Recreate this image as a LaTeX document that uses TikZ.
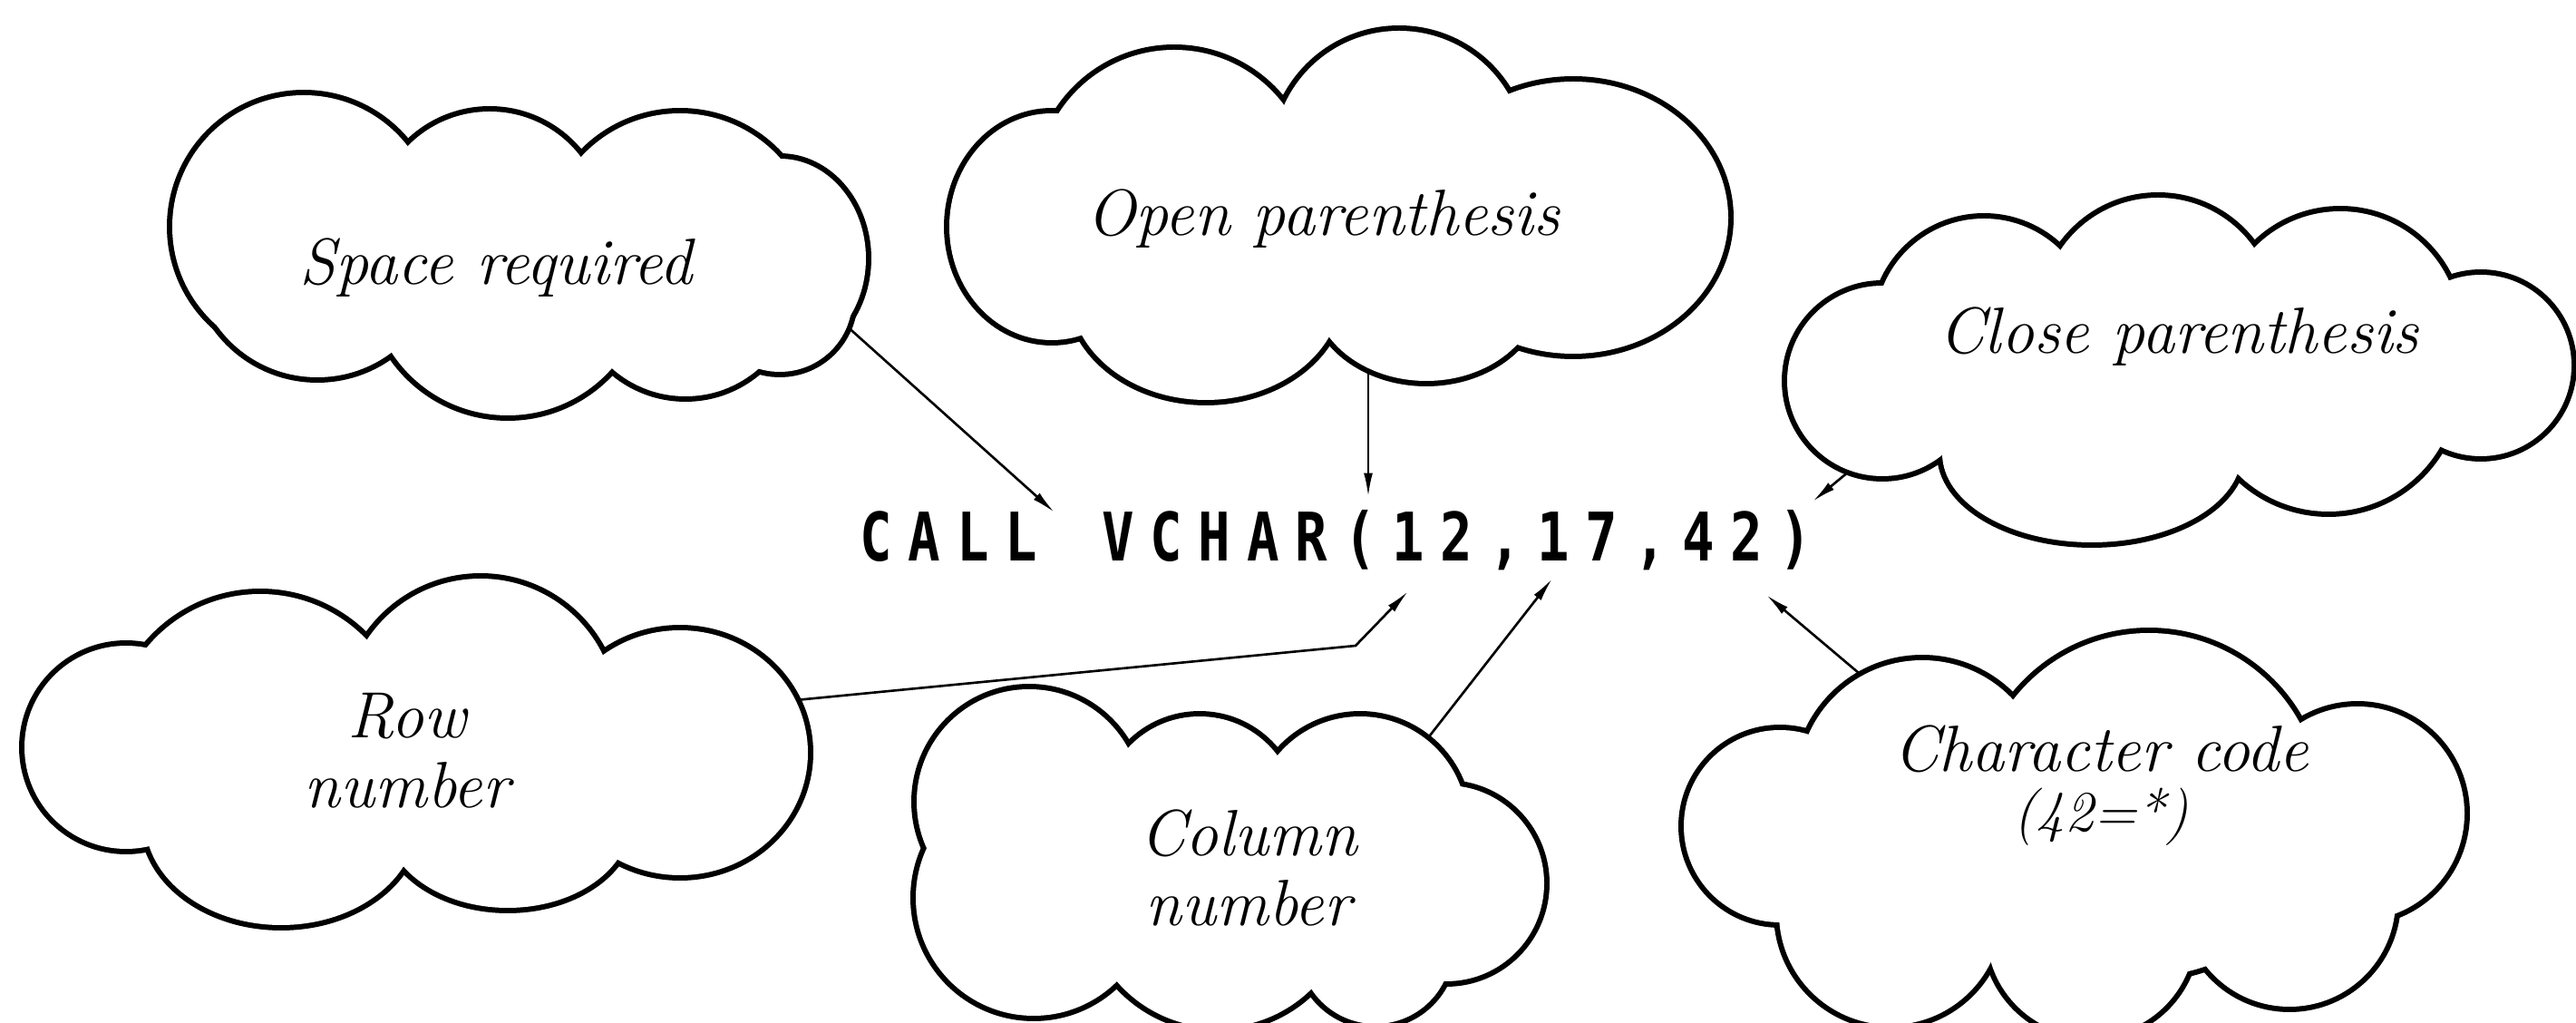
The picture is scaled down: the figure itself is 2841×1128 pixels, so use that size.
\documentclass[tikz,border=0pt]{standalone}
\usepackage{fontspec}
\newfontfamily\codefont[FakeStretch=0.8]{DejaVu Sans Mono}
\usetikzlibrary{shapes.geometric,arrows.meta}
% one fixed-pitch cell of the statement line
\newcommand\ch[1]{\makebox[15.17pt]{#1}}
% a cloud as the union of its lobes: stroke every lobe, then paint them all white
\newcommand\cloudoutline[1]{%
  \foreach \cx/\cy/\rx/\ry in {#1}
    {\draw[line width=3.4pt] (\cx,\cy) ellipse [x radius=\rx, y radius=\ry];}
  \foreach \cx/\cy/\rx/\ry in {#1}
    {\fill[white] (\cx,\cy) ellipse [x radius=\rx, y radius=\ry];}}
\begin{document}
\begin{tikzpicture}[x=0.01cm,y=-0.01cm,
  cloudarea/.style={ellipse, inner sep=0pt},
  labeltext/.style={align=center, inner sep=0pt,
    font=\itshape\fontsize{20.5}{22}\selectfont},
  conn/.style={line width=0.75pt, -{Latex[length=7.5pt,width=2.8pt]}},
  code/.style={font=\codefont\bfseries\fontsize{21}{24}\selectfont,
    inner sep=0pt, anchor=base west}]
\useasboundingbox (0,0) rectangle (2841,1128);
\clip (0,0) rectangle (2841,1128);

% areas of the six clouds
\node[cloudarea, minimum width=7.0cm, minimum height=3.2cm] (space) at (572,280) {};
\node[cloudarea, minimum width=7.9cm, minimum height=3.4cm] (open) at (1476,237) {};
\node[cloudarea, minimum width=7.9cm, minimum height=3.4cm] (close) at (2403,407) {};
\node[cloudarea, minimum width=7.9cm, minimum height=3.4cm] (row) at (459,829) {};
\node[cloudarea, minimum width=6.3cm, minimum height=3.5cm] (column) at (1357,955) {};
\node[cloudarea, minimum width=7.9cm, minimum height=4.0cm] (char) at (2288,923) {};

% the statement
\node[code] (call) at (939,619)
  {\ch{C}\ch{A}\ch{L}\ch{L}\ch{ }\ch{V}\ch{C}\ch{H}\ch{A}\ch{R}\ch{(}\ch{1}\ch{2}\ch{,}\ch{1}\ch{7}\ch{,}\ch{4}\ch{2}\ch{)}};

% arrow tips at the statement
\coordinate (tipA) at (1163,565);
\coordinate (tipB) at (1509,548);
\coordinate (tipC) at (1999,553);
\coordinate (bendD) at (1495,712);
\coordinate (tipD) at (1553,652);
\coordinate (tipE) at (1712,638);
\coordinate (tipF) at (1948,656);

% connectors (their inner ends disappear under the clouds)
\draw[conn] (space.-9.4) -- (tipA);
\draw[conn] (tipB |- open.-79) -- (tipB);
\draw[conn] (close.-165) -- (tipC);
\draw[conn] (row.8.7) -- (bendD) -- (tipD);
\draw[conn] (column.32.7) -- (tipE);
\draw[conn] (char.143.6) -- (tipF);

% cloud outlines
\cloudoutline{335/250/145/145, 540/249/126/126, 750/273/148/148, 860/285/95/110,
  860/330/80/80, 756/315/122/122, 560/305/153/153, 350/280/136/136, 572/285/300/95}
\cloudoutline{1295/206/151/151, 1543/173/139/139, 1735/240/171/150, 1573/320/125/100,
  1330/320/150/121, 1160/250/113/125, 1476/240/330/110}
\cloudoutline{2188/361/120/120, 2380/347/129/129, 2581/365/132/132, 2736/403/100/100,
  2568/422/142/142, 2307/500/165/98, 2076/420/105/105, 2403/407/300/100}
\cloudoutline{287/817/162/162, 530/788/150/150, 750/830/141/135, 560/905/135/96,
  310/905/150/115, 139/824/112/112, 459/829/300/95}
\cloudoutline{1135/884/124/124, 1323/897/107/107, 1500/908/118/118, 1595/974/108/108,
  1140/990/130/130, 1343/986/147/147, 1517/1045/84/84, 1357/960/250/90}
\cloudoutline{1963/911/106/106, 2120/865/137/137, 2370/887/189/189, 2600/897/118/118,
  2085/1007/123/123, 2306/1028/115/115, 2525/993/117/117, 2290/920/300/110}

% cloud texts
\node[labeltext] (spaceT) at (547,295) {Space required};
\node[labeltext] (openT) at (1459,241) {Open parenthesis};
\node[labeltext] (closeT) at (2403,371) {Close parenthesis};
\node[labeltext] (rowT) at (449,828) {Row\\number};
\node[labeltext] (columnT) at (1377,957) {Column\\number};
\node[labeltext] (charT) at (2317,866) {Character code\\[-3pt]{\fontsize{18}{19}\selectfont(42=*)}};
\end{tikzpicture}
\end{document}
